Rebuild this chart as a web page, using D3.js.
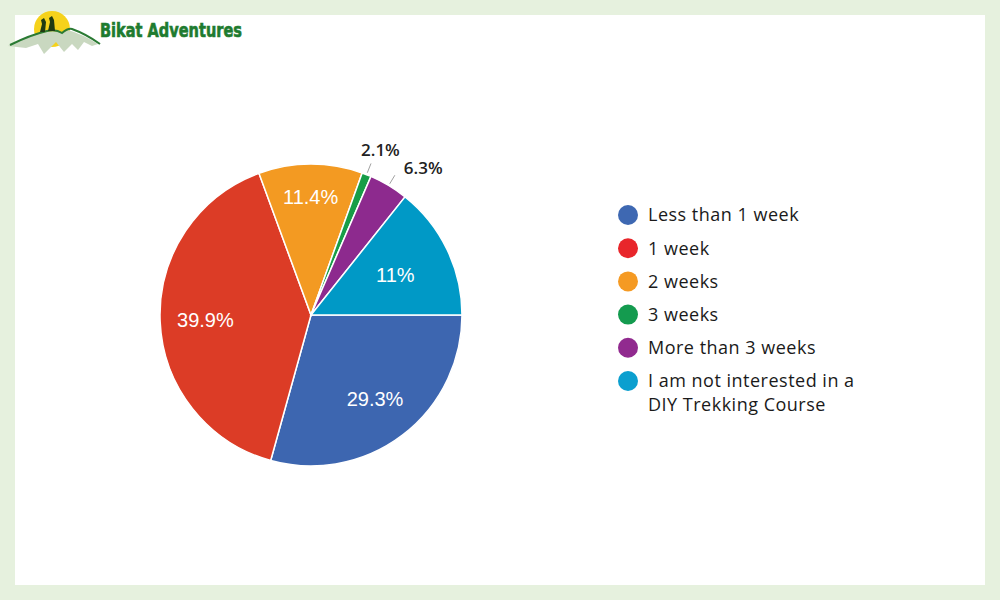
<!DOCTYPE html>
<html>
<head>
<meta charset="utf-8">
<script src="https://cdn.jsdelivr.net/npm/d3@7"></script>
<style>
  body { margin: 0; background: #e6f1de; }
  svg { display: block; }
</style>
</head>
<body>
<div id="chart"></div>
<script>
// categories, slice sizes (as drawn) and the percent labels printed on the chart
var categories = ["Less than 1 week", "1 week", "2 weeks", "3 weeks", "More than 3 weeks", "I am not interested in a DIY Trekking Course"];
var sliceValues = [29.3, 40.1, 11.1, 1.0, 4.2, 14.3];
var sliceLabels = ["29.3%", "39.9%", "11.4%", "2.1%", "6.3%", "11%"];
var sliceColors = ["#3d66b0", "#dc3c26", "#f39a22", "#179d47", "#8d2a8e", "#0099c6"];
var legendColors = ["#3e68b2", "#e8262b", "#f59a23", "#149b4f", "#912a8f", "#0b9fcf"];
var legendLines = [["Less than 1 week"], ["1 week"], ["2 weeks"], ["3 weeks"], ["More than 3 weeks"], ["I am not interested in a", "DIY Trekking Course"]];

var W = 1000, H = 600;
var svg = d3.select("#chart").append("svg")
    .attr("width", W)
    .attr("height", H);

// page frame
svg.append("rect").attr("width", W).attr("height", H).attr("fill", "#e6f1de");
svg.append("rect").attr("x", 15).attr("y", 15).attr("width", 970).attr("height", 570).attr("fill", "#ffffff");

// logo
var logo = svg.append("g");
logo.append("circle").attr("cx", 52).attr("cy", 29).attr("r", 18).attr("fill", "#f5d21b");
logo.append("path")
    .attr("d", "M8,46 Q28,36 46,32 Q56,30 62,33 L68,30 Q82,34 98,44 L92,46 L84,42 L78,50 L72,44 L64,52 L56,42 L44,54 L38,44 L26,48 Z")
    .attr("fill", "#c9d8c0");
logo.append("path")
    .attr("d", "M10,45 Q30,35 47,31 Q56,29 62,33 Q68,28 72,29 Q86,34 100,44")
    .attr("fill", "none").attr("stroke", "#2a7a33").attr("stroke-width", 2);
logo.append("path")
    .attr("d", "M40,32 L42,24 L41,20 L44,18 L46,22 L45,32 Z M48,31 L50,22 L49,18 L52,16 L54,20 L55,31 Z")
    .attr("fill", "#1f3b12");
logo.append("text")
    .attr("x", 100).attr("y", 37)
    .attr("textLength", 142).attr("lengthAdjust", "spacingAndGlyphs")
    .style("font-family", "'DejaVu Sans Condensed', 'DejaVu Sans', sans-serif")
    .style("font-weight", "bold")
    .style("font-size", "19px")
    .attr("fill", "#1e7b2f")
    .attr("stroke", "#1e7b2f")
    .attr("stroke-width", 0.6)
    .text("Bikat Adventures");

// pie
var cx = 311, cy = 315, radius = 151;
var data = categories.map(function(c, i) {
    return {cat: c, value: sliceValues[i], label: sliceLabels[i], color: sliceColors[i]};
});
var pie = d3.pie()
    .sort(null)
    .value(function(d) { return d.value; })
    .startAngle(Math.PI / 2)
    .endAngle(Math.PI / 2 + 2 * Math.PI);
var arcs = pie(data);
var arc = d3.arc().innerRadius(0).outerRadius(radius);

var g = svg.append("g").attr("transform", "translate(" + cx + "," + cy + ")");
g.selectAll("path.slice")
    .data(arcs)
    .enter()
    .append("path")
    .attr("class", "slice")
    .attr("d", arc)
    .attr("fill", function(d) { return d.data.color; })
    .attr("stroke", "#ffffff")
    .attr("stroke-width", 1.5);

// inside labels for big slices, outside labels for tiny ones
var small = function(d) { return d.data.value < 5; };
var labelR = function(d) {
    if (d.index === 2) return radius * 0.78;
    if (d.index === 5) return radius * 0.62;
    return radius * 0.70;
};
g.selectAll("text.inlabel")
    .data(arcs.filter(function(d) { return !small(d); }))
    .enter()
    .append("text")
    .attr("class", "inlabel")
    .attr("transform", function(d) {
        var r = labelR(d);
        return "translate(" + d3.arc().innerRadius(r).outerRadius(r).centroid(d) + ")";
    })
    .attr("text-anchor", "middle")
    .attr("dy", "0.36em")
    .style("font-family", "'Liberation Sans', Arial, sans-serif")
    .style("font-size", "20px")
    .attr("fill", "#ffffff")
    .text(function(d) { return d.data.label; });

var lineIn = d3.arc().innerRadius(radius + 2).outerRadius(radius + 2);
var lineOut = d3.arc().innerRadius(radius + 12).outerRadius(radius + 12);
var outs = arcs.filter(small);
g.selectAll("line.leader")
    .data(outs)
    .enter()
    .append("line")
    .attr("class", "leader")
    .attr("x1", function(d) { return lineIn.centroid(d)[0]; })
    .attr("y1", function(d) { return lineIn.centroid(d)[1]; })
    .attr("x2", function(d) { return lineOut.centroid(d)[0]; })
    .attr("y2", function(d) { return lineOut.centroid(d)[1]; })
    .attr("stroke", "#888888")
    .attr("stroke-width", 0.8);
g.selectAll("text.outlabel")
    .data(outs)
    .enter()
    .append("text")
    .attr("class", "outlabel")
    .attr("x", function(d, i) { return lineOut.centroid(d)[0] + (i === 0 ? -10 : 9); })
    .attr("y", function(d, i) { return lineOut.centroid(d)[1] + (i === 0 ? -7 : -1); })
    .style("font-family", "'Open Sans', 'Noto Sans', sans-serif")
    .style("font-weight", "600")
    .style("font-size", "17px")
    .attr("fill", "#222222")
    .text(function(d) { return d.data.label; });

// legend
var legend = svg.append("g").attr("transform", "translate(628,215)");
var rowY = d3.scalePoint().domain(d3.range(categories.length)).range([0, 166]);
var items = legend.selectAll("g.item")
    .data(categories)
    .enter()
    .append("g")
    .attr("class", "item")
    .attr("transform", function(d, i) { return "translate(0," + rowY(i) + ")"; });
items.append("circle")
    .attr("r", 10)
    .attr("fill", function(d, i) { return legendColors[i]; });
items.append("text")
    .attr("x", 20)
    .style("font-family", "'Open Sans', 'Noto Sans', sans-serif")
    .style("font-size", "18px")
    .style("letter-spacing", "0.5px")
    .attr("fill", "#1a1a1a")
    .each(function(d, i) {
        var t = d3.select(this);
        legendLines[i].forEach(function(line, j) {
            t.append("tspan").attr("x", 20).attr("dy", j === 0 ? "0.35em" : "1.3em").text(line);
        });
    });
</script>
</body>
</html>
